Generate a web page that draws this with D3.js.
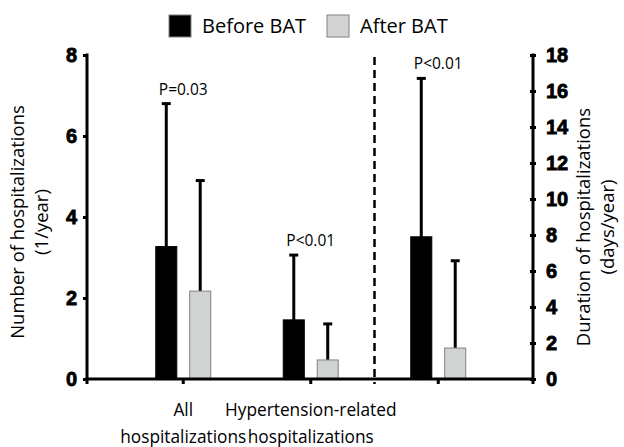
<!DOCTYPE html>
<html>
<head>
	<script src="https://cdn.jsdelivr.net/npm/d3@7"></script>
	<style>
		html, body {
			padding: 0;
			margin: 0;
			background: #fff;
		}
		text { font-family: "Open Sans", sans-serif; }
	</style>
</head>
<body>
	<script>
		var width = 624, height = 447;

		// data
		var groups = ["all", "htn", "dur"];
		var groupLabels = [["All", "hospitalizations"], ["Hypertension-related", "hospitalizations"], ["", ""]];
		var series = ["Before BAT", "After BAT"];
		var beforeMean = [3.27, 1.46, 7.9];
		var beforeErr = [3.53, 1.6, 8.8];
		var afterMean = [2.17, 0.47, 1.72];
		var afterErr = [2.73, 0.89, 4.85];
		var pLabels = ["P=0.03", "P<0.01", "P<0.01"];
		var leftTicks = [0, 2, 4, 6, 8];
		var rightTicks = [0, 2, 4, 6, 8, 10, 12, 14, 16, 18];

		var colors = { "Before BAT": "#000000", "After BAT": "#d1d3d2" };
		var strokes = { "Before BAT": "#000000", "After BAT": "#808080" };

		var svg = d3.select("body").append("svg")
			.attr("width", width)
			.attr("height", height);

		var mLeft = 87, mRight = 533, mTop = 55, mBottom = 379;

		var x = d3.scaleBand().domain(groups).range([119.5, 502]);
		var xs = d3.scaleBand().domain(series).range([-27.5, 27.5]).paddingInner(0.38);
		var yL = d3.scaleLinear().domain([0, 8]).range([mBottom, mTop]);
		var yR = d3.scaleLinear().domain([0, 18]).range([mBottom, mTop]);

		// third group is on the right axis
		function yFor(i) { return i == 2 ? yR : yL; }

		// axes
		var axL = svg.append("g")
			.attr("transform", "translate(" + mLeft + ",0)")
			.call(d3.axisLeft(yL).tickValues(leftTicks).tickSize(4).tickPadding(6));
		var axR = svg.append("g")
			.attr("transform", "translate(" + mRight + ",0)")
			.call(d3.axisRight(yR).tickValues(rightTicks).tickSize(3).tickPadding(10));
		[axL, axR].forEach(function(a) {
			a.select(".domain").remove();
			a.selectAll("line").attr("stroke", "#000").attr("stroke-width", 3);
			a.selectAll("text")
				.style("font-family", "Arial, 'Liberation Sans', sans-serif")
				.style("font-weight", "700")
				.style("font-size", "20px")
				.attr("fill", "#000")
				.attr("stroke", "#000")
				.attr("stroke-width", 0.8);
		});
		axR.selectAll(".tick line").attr("x1", -3).attr("x2", 3);

		svg.append("line").attr("x1", mLeft).attr("x2", mLeft).attr("y1", mTop - 1.5).attr("y2", mBottom)
			.attr("stroke", "#000").attr("stroke-width", 3);
		svg.append("line").attr("x1", mRight).attr("x2", mRight).attr("y1", mTop - 1.5).attr("y2", mBottom + 5)
			.attr("stroke", "#000").attr("stroke-width", 3);

		// bars
		var rows = [];
		groups.forEach(function(g, i) {
			rows.push({ g: g, i: i, s: "Before BAT", v: beforeMean[i], e: beforeErr[i] });
			rows.push({ g: g, i: i, s: "After BAT", v: afterMean[i], e: afterErr[i] });
		});

		var cx = function(d) { return x(d.g) + x.bandwidth() / 2 + xs(d.s) + xs.bandwidth() / 2; };

		// error bars (upper only)
		svg.selectAll(".err").data(rows).enter().append("line")
			.attr("x1", cx).attr("x2", cx)
			.attr("y1", function(d) { return yFor(d.i)(d.v); })
			.attr("y2", function(d) { return yFor(d.i)(d.v + d.e); })
			.attr("stroke", "#000").attr("stroke-width", 3);
		svg.selectAll(".cap").data(rows).enter().append("line")
			.attr("x1", function(d) { return cx(d) - 4.5; })
			.attr("x2", function(d) { return cx(d) + 4.5; })
			.attr("y1", function(d) { return yFor(d.i)(d.v + d.e); })
			.attr("y2", function(d) { return yFor(d.i)(d.v + d.e); })
			.attr("stroke", "#000").attr("stroke-width", 3);

		svg.selectAll(".bar").data(rows).enter().append("rect")
			.attr("x", function(d) { return cx(d) - xs.bandwidth() / 2; })
			.attr("width", xs.bandwidth())
			.attr("y", function(d) { return yFor(d.i)(d.v); })
			.attr("height", function(d) { return mBottom - yFor(d.i)(d.v); })
			.attr("fill", function(d) { return colors[d.s]; })
			.attr("stroke", function(d) { return strokes[d.s]; })
			.attr("stroke-width", 1);

		// x axis
		svg.append("line").attr("x1", mLeft - 1.5).attr("x2", mRight).attr("y1", mBottom).attr("y2", mBottom)
			.attr("stroke", "#000").attr("stroke-width", 3);
		var xt = [mLeft].concat(groups.map(function(g) { return x(g) + x.bandwidth() / 2; }));
		svg.selectAll(".xtick").data(xt).enter().append("line")
			.attr("x1", function(d) { return d; }).attr("x2", function(d) { return d; })
			.attr("y1", mBottom).attr("y2", mBottom + 5)
			.attr("stroke", "#000").attr("stroke-width", 3);

		// dashed separator
		var sep = (x("htn") + x("dur")) / 2 + x.bandwidth() / 2;
		svg.append("line").attr("x1", sep).attr("x2", sep).attr("y1", 57).attr("y2", mBottom + 5)
			.attr("stroke", "#000").attr("stroke-width", 2.5).attr("stroke-dasharray", "8,5");

		// group labels
		groups.forEach(function(g, i) {
			var t = svg.append("text")
				.attr("text-anchor", "middle")
				.attr("font-size", 17.3);
			t.append("tspan").attr("x", x(g) + x.bandwidth() / 2).attr("y", 416).text(groupLabels[i][0]);
			t.append("tspan").attr("x", x(g) + x.bandwidth() / 2).attr("y", 443).text(groupLabels[i][1]);
		});

		// p-values
		groups.forEach(function(g, i) {
			var hi = Math.max(beforeMean[i] + beforeErr[i], afterMean[i] + afterErr[i]);
			svg.append("text")
				.attr("x", x(g) + x.bandwidth() / 2)
				.attr("y", yFor(i)(hi) - 9)
				.attr("text-anchor", "middle")
				.attr("font-size", 15.5)
				.text(pLabels[i]);
		});

		// axis titles
		svg.append("text")
			.attr("transform", "translate(24,222) rotate(-90)")
			.attr("text-anchor", "middle").attr("font-size", 18.5)
			.text("Number of hospitalizations");
		svg.append("text")
			.attr("transform", "translate(48,222) rotate(-90)")
			.attr("text-anchor", "middle").attr("font-size", 18.5)
			.text("(1/year)");
		svg.append("text")
			.attr("transform", "translate(590,227) rotate(-90)")
			.attr("text-anchor", "middle").attr("font-size", 18.5)
			.text("Duration of hospitalizations");
		svg.append("text")
			.attr("transform", "translate(614,227) rotate(-90)")
			.attr("text-anchor", "middle").attr("font-size", 18.5)
			.text("(days/year)");

		// legend
		var lg = svg.append("g");
		var lx = [169, 327];
		series.forEach(function(s, i) {
			lg.append("rect").attr("x", lx[i]).attr("y", 15).attr("width", 22).attr("height", 22)
				.attr("fill", colors[s]).attr("stroke", "#808080").attr("stroke-width", 1);
			lg.append("text").attr("x", lx[i] + 33).attr("y", 33).attr("font-size", 20).text(s);
		});
	</script>
</body>
</html>
